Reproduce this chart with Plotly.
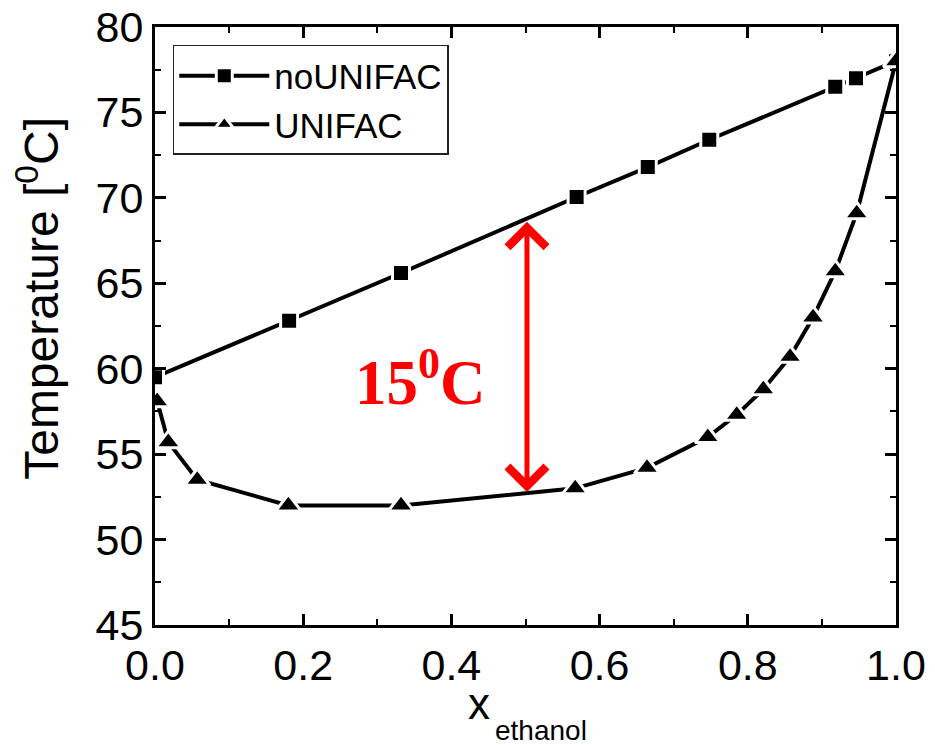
import plotly.graph_objects as go

# Boiling temperature vs. ethanol mole fraction
x_no_unifac = [0.0, 0.181, 0.332, 0.569, 0.665, 0.748, 0.918, 0.946, 1.0]
t_no_unifac = [59.5, 62.8, 65.6, 70.05, 71.8, 73.4, 76.5, 77.0, 78.0]

x_unifac = [0.003, 0.018, 0.057, 0.18, 0.332, 0.567, 0.664, 0.746, 0.785,
            0.821, 0.857, 0.888, 0.918, 0.947, 1.0]
t_unifac = [58.1, 55.7, 53.5, 52.0, 52.0, 53.0, 54.2, 56.0, 57.3,
            58.8, 60.7, 63.0, 65.7, 69.1, 78.0]

gap_x = 0.502
gap_top = 68.6
gap_bottom = 52.7
gap_label = "15<sup>0</sup>C"

FONT = "Liberation Sans, Arial, sans-serif"

fig = go.Figure()
fig.add_trace(go.Scatter(
    x=x_no_unifac, y=t_no_unifac, mode="lines+markers", name="noUNIFAC",
    line=dict(color="black", width=4),
    marker=dict(symbol="square", size=17, color="black",
                line=dict(color="white", width=3)),
))
fig.add_trace(go.Scatter(
    x=x_unifac, y=t_unifac, mode="lines+markers", name="UNIFAC",
    line=dict(color="black", width=4),
    marker=dict(symbol="triangle-up", size=22, color="black",
                line=dict(color="white", width=3)),
))

# double-headed arrow marking the temperature gap
fig.add_annotation(
    x=gap_x, y=gap_top, ax=gap_x, ay=gap_bottom,
    xref="x", yref="y", axref="x", ayref="y",
    text="", showarrow=True, arrowhead=4, startarrowhead=4,
    arrowside="end+start", arrowwidth=5, arrowsize=1.5, startarrowsize=1.5,
    arrowcolor="#ff0000", standoff=0, startstandoff=0,
)
fig.add_annotation(
    x=0.358, y=59.4, xref="x", yref="y", text=gap_label, showarrow=False,
    font=dict(family="Liberation Serif, Times New Roman, serif", size=63,
              color="#ff0000", weight="bold"),
)

# y-axis title placed as rotated text beside the axis
fig.add_annotation(
    x=-0.158, y=0.547, xref="paper", yref="paper",
    text="Temperature [<sup>0</sup>C]", textangle=-90, showarrow=False,
    xanchor="center", yanchor="middle",
    font=dict(family=FONT, size=48, color="black"),
)

# x-axis title: symbol with a dropped subscript
fig.add_annotation(
    x=0.4548, y=-0.131, xref="paper", yref="paper", text="x", showarrow=False,
    xanchor="right", yanchor="middle",
    font=dict(family=FONT, size=44, color="black"),
)
fig.add_annotation(
    x=0.4561, y=-0.1756, xref="paper", yref="paper", text="ethanol", showarrow=False,
    xanchor="left", yanchor="middle",
    font=dict(family=FONT, size=28, color="black"),
)

axis_common = dict(
    showline=True, linecolor="black", linewidth=3, mirror="allticks",
    ticks="inside", ticklen=11, tickwidth=2.5, tickcolor="black",
    showgrid=False, zeroline=False, automargin=False,
    tickfont=dict(family=FONT, size=43, color="black"),
)

fig.update_xaxes(
    range=[0, 1], tick0=0, dtick=0.2, tickformat=".1f",
    minor=dict(ticks="inside", dtick=0.1, ticklen=6, tickwidth=2, tickcolor="black"),
    **axis_common,
)
fig.update_yaxes(
    range=[45, 80], tick0=45, dtick=5,
    minor=dict(ticks="inside", dtick=2.5, ticklen=6, tickwidth=2, tickcolor="black"),
    **axis_common,
)

fig.update_layout(
    width=935, height=745,
    margin=dict(l=155, r=39, t=27, b=120),
    plot_bgcolor="white", paper_bgcolor="white",
    showlegend=True,
    legend=dict(
        x=0.024, y=0.97, xanchor="left", yanchor="top",
        bgcolor="white", bordercolor="#222222", borderwidth=1.5,
        font=dict(family=FONT, size=35, color="black"),
        itemwidth=90, tracegroupgap=0,
    ),
)

fig.write_html("out.html")
